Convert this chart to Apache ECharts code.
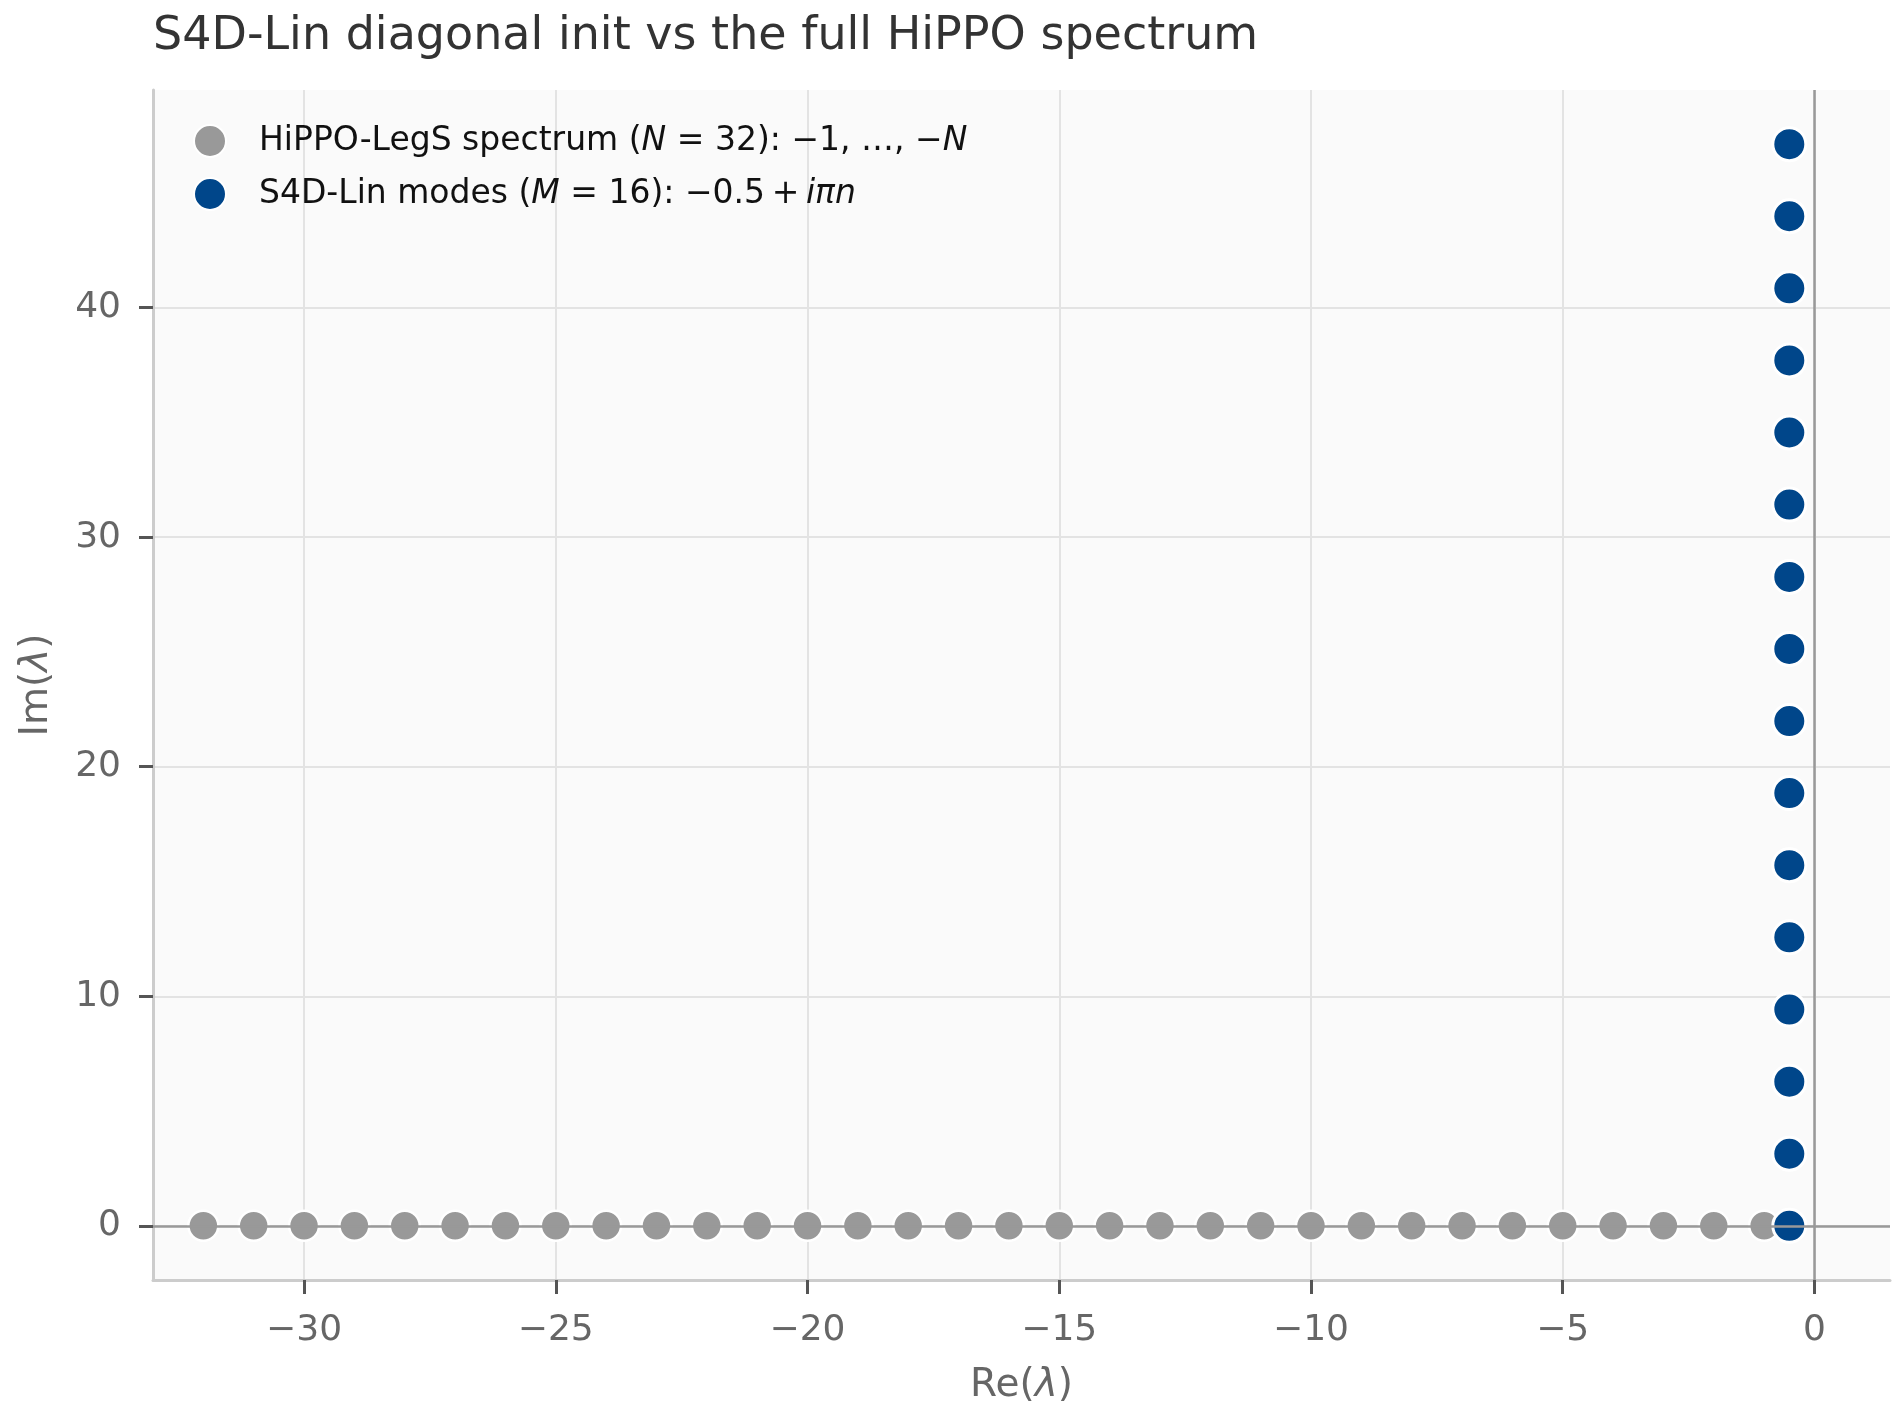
<!DOCTYPE html>
<html>
<head>
<meta charset="utf-8">
<script src="https://cdn.jsdelivr.net/npm/echarts@6.0.0/dist/echarts.min.js"></script>
<style>
  html, body { margin: 0; padding: 0; background: #fff; }
  #chart { width: 1902px; height: 1421px; }
</style>
</head>
<body>
<div id="chart"></div>
<script>
// HiPPO-LegS eigenvalues: -1 ... -32 on the real axis
var hippoRe = [-1, -2, -3, -4, -5, -6, -7, -8, -9, -10, -11, -12, -13, -14, -15, -16,
  -17, -18, -19, -20, -21, -22, -23, -24, -25, -26, -27, -28, -29, -30, -31, -32];
var hippoIm = 0;
// S4D-Lin modes: -0.5 + i*pi*n, n = 0..15
var s4dRe = -0.5;
var s4dIm = [0, 3.14, 6.28, 9.42, 12.57, 15.71, 18.85, 21.99, 25.13, 28.27,
  31.42, 34.56, 37.70, 40.84, 43.98, 47.12];
var xTicks = [-30, -25, -20, -15, -10, -5, 0];
var yTicks = [0, 10, 20, 30, 40];

var FONT = "DejaVu Sans";
var minus = function (v) { return v < 0 ? "\u2212" + Math.abs(v) : String(v); };

var chart = echarts.init(document.getElementById("chart"));
chart.setOption({
  animation: false,
  backgroundColor: "#ffffff",
  title: {
    text: "S4D-Lin diagonal init vs the full HiPPO spectrum",
    left: 148,
    top: 9,
    textStyle: { fontFamily: FONT, fontSize: 46, fontWeight: "normal", color: "#333333" }
  },
  grid: {
    left: 153, right: 12, top: 90, bottom: 141,
    show: true, backgroundColor: "#fafafa", borderWidth: 0
  },
  legend: {
    orient: "vertical",
    left: 188,
    top: 119,
    itemGap: 19,
    itemWidth: 32,
    itemHeight: 32,
    icon: "circle",
    data: ["hippo", "s4d"],
    formatter: function (name) {
      if (name === "hippo") return "HiPPO-LegS spectrum ({i|N} = 32): \u22121, \u2026, \u2212{i|N}";
      return "S4D-Lin modes ({i|M} = 16): \u22120.5\u2009+\u2009{i|i\u03c0n}";
    },
    textStyle: {
      fontFamily: FONT, fontSize: 33, color: "#111111",
      padding: [0, 0, 0, 28],
      rich: { i: { fontFamily: FONT, fontSize: 33, fontStyle: "italic", color: "#111111" } }
    }
  },
  xAxis: {
    type: "value",
    min: -33,
    max: 1.5,
    name: "Re({i|\u03bb})",
    nameLocation: "middle",
    nameGap: 86,
    nameTextStyle: {
      fontFamily: FONT, fontSize: 39, color: "#666666",
      rich: { i: { fontFamily: FONT, fontSize: 39, fontStyle: "italic", color: "#666666" } }
    },
    axisLine: { show: true, onZero: false, lineStyle: { color: "#cccccc", width: 3 } },
    axisTick: { show: true, customValues: xTicks, length: 14, lineStyle: { color: "#555555", width: 3 } },
    axisLabel: {
      customValues: xTicks, margin: 33, formatter: minus,
      fontFamily: FONT, fontSize: 36, color: "#666666"
    },
    splitLine: { show: true, lineStyle: { color: "#e3e3e3", width: 2 } }
  },
  yAxis: {
    type: "value",
    min: -2.36,
    max: 49.48,
    name: "Im({i|\u03bb})",
    nameLocation: "middle",
    nameRotate: 90,
    nameGap: 97,
    nameTextStyle: {
      fontFamily: FONT, fontSize: 39, color: "#666666",
      rich: { i: { fontFamily: FONT, fontSize: 39, fontStyle: "italic", color: "#666666" } }
    },
    axisLine: { show: true, onZero: false, lineStyle: { color: "#cccccc", width: 3 } },
    axisTick: { show: true, customValues: yTicks, length: 14, lineStyle: { color: "#555555", width: 3 } },
    axisLabel: {
      customValues: yTicks, margin: 32, formatter: minus,
      fontFamily: FONT, fontSize: 36, color: "#666666"
    },
    splitLine: { show: true, lineStyle: { color: "#e3e3e3", width: 2 } }
  },
  series: [
    {
      name: "axes",
      type: "scatter",
      data: [],
      z: 1,
      markLine: {
        silent: true,
        symbol: ["none", "none"],
        label: { show: false },
        lineStyle: { color: "#999999", width: 2.5, type: "solid" },
        data: [{ yAxis: 0 }, { xAxis: 0 }]
      }
    },
    {
      name: "hippo",
      type: "scatter",
      z: 3,
      symbolSize: 30,
      itemStyle: { color: "#999999", borderColor: "#ffffff", borderWidth: 2.5, opacity: 1 },
      data: hippoRe.map(function (x) { return [x, hippoIm]; })
    },
    {
      name: "s4d",
      type: "scatter",
      z: 4,
      symbolSize: 33,
      itemStyle: { color: "#00468a", borderColor: "#ffffff", borderWidth: 3, opacity: 1 },
      data: s4dIm.map(function (y) { return [s4dRe, y]; })
    }
  ]
});
</script>
</body>
</html>
